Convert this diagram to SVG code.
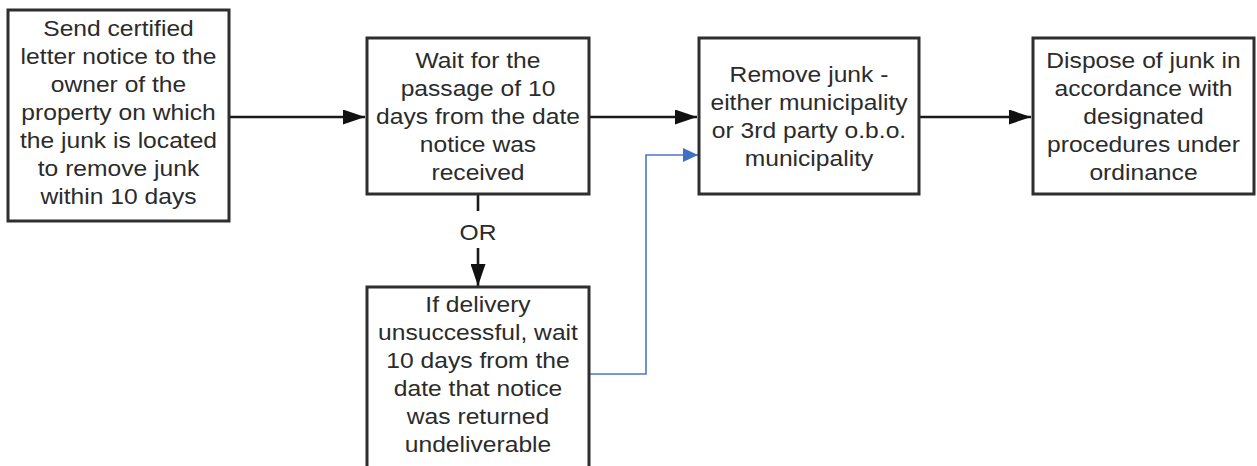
<svg xmlns="http://www.w3.org/2000/svg" width="1257" height="466" viewBox="0 0 1257 466">
  <style>
    .box { fill: #ffffff; stroke: #2e2e2e; stroke-width: 3; }
    .lbl { font-family: "Liberation Sans", Arial, sans-serif; font-size: 22px; fill: #2b2b2b; text-anchor: middle; }
    .flow { fill: none; stroke: #1a1a1a; stroke-width: 2.6; }
    .alt { fill: none; stroke: #4a78c8; stroke-width: 1.6; }
  </style>
  <defs>
    <marker id="head" viewBox="0 0 22 15" refX="22" refY="7.5" markerWidth="22" markerHeight="15" markerUnits="userSpaceOnUse" orient="auto">
      <path d="M0,0 L22,7.5 L0,15 Z" fill="#111111"/>
    </marker>
    <marker id="headBlue" viewBox="0 0 15 14" refX="15" refY="7" markerWidth="15" markerHeight="14" markerUnits="userSpaceOnUse" orient="auto">
      <path d="M0,0 L15,7 L0,14 Z" fill="#3f6fc4"/>
    </marker>
  </defs>
  <rect width="1257" height="466" fill="#ffffff"/>

  <g id="connectors">
    <path class="flow" d="M229,117 H365" marker-end="url(#head)"/>
    <path class="flow" d="M589,117 H697" marker-end="url(#head)"/>
    <path class="flow" d="M919,117 H1031" marker-end="url(#head)"/>
    <path class="flow" d="M478,194 V211"/>
    <path class="flow" d="M478,248 V286" marker-end="url(#head)"/>
    <text class="lbl" transform="translate(478,240) scale(1.12,1)" x="0" y="0">OR</text>
    <path class="alt" d="M589,374 H646 V155 H698" marker-end="url(#headBlue)"/>
  </g>

  <g id="send-notice">
    <rect class="box" x="8" y="10" width="221" height="211"/>
    <g class="lbl" transform="translate(118.5,0) scale(1.12,1)">
      <text x="0" y="36">Send certified</text>
      <text x="0" y="64">letter notice to the</text>
      <text x="0" y="92">owner of the</text>
      <text x="0" y="120">property on which</text>
      <text x="0" y="148">the junk is located</text>
      <text x="0" y="176">to remove junk</text>
      <text x="0" y="204">within 10 days</text>
    </g>
  </g>

  <g id="wait-received">
    <rect class="box" x="367" y="38" width="222" height="156"/>
    <g class="lbl" transform="translate(478,0) scale(1.12,1)">
      <text x="0" y="68">Wait for the</text>
      <text x="0" y="96">passage of 10</text>
      <text x="0" y="124">days from the date</text>
      <text x="0" y="152">notice was</text>
      <text x="0" y="180">received</text>
    </g>
  </g>

  <g id="remove-junk">
    <rect class="box" x="699" y="38" width="220" height="156"/>
    <g class="lbl" transform="translate(809,0) scale(1.12,1)">
      <text x="0" y="82">Remove junk -</text>
      <text x="0" y="110">either municipality</text>
      <text x="0" y="138">or 3rd party o.b.o.</text>
      <text x="0" y="166">municipality</text>
    </g>
  </g>

  <g id="dispose-junk">
    <rect class="box" x="1033" y="38" width="221" height="156"/>
    <g class="lbl" transform="translate(1143.5,0) scale(1.12,1)">
      <text x="0" y="68">Dispose of junk in</text>
      <text x="0" y="96">accordance with</text>
      <text x="0" y="124">designated</text>
      <text x="0" y="152">procedures under</text>
      <text x="0" y="180">ordinance</text>
    </g>
  </g>

  <g id="wait-returned">
    <rect class="box" x="367" y="287" width="222" height="200"/>
    <g class="lbl" transform="translate(478,0) scale(1.12,1)">
      <text x="0" y="312">If delivery</text>
      <text x="0" y="340">unsuccessful, wait</text>
      <text x="0" y="368">10 days from the</text>
      <text x="0" y="396">date that notice</text>
      <text x="0" y="424">was returned</text>
      <text x="0" y="452">undeliverable</text>
    </g>
  </g>
</svg>
